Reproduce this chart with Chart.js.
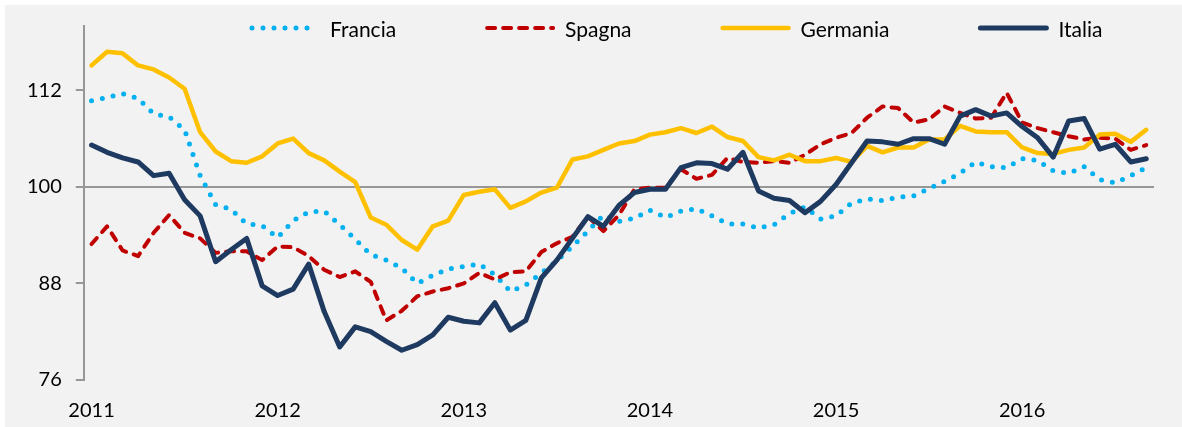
<!DOCTYPE html>
<html>
<head>
<meta charset="utf-8">
<script src="https://cdn.jsdelivr.net/npm/chart.js@4.4.0/dist/chart.umd.min.js"></script>
<style>
    html, body { margin: 0; padding: 0; background: #fff; }
    #wrap { position: absolute; left: 5px; top: 5px; width: 1177px; height: 422px; background: #f2f2f2; }
</style>
</head>
<body>
<div id="wrap"><canvas id="chart" width="1177" height="422"></canvas></div>
<script>
// Monthly series, Jan 2011 - Sep 2016
const years = ['2011', '2012', '2013', '2014', '2015', '2016'];
const lastMonth = '2016-09';
const yTicks = [76, 88, 100, 112];

const francia = [
    110.7, 111.1, 111.6, 111.0, 109.1, 108.7, 107.1, 101.4, 97.8, 97.2,
    95.4, 95.2, 93.7, 95.8, 96.9, 97.0, 95.3, 93.5, 91.6, 90.9,
    89.9, 88.0, 89.0, 89.8, 90.1, 90.4, 89.1, 87.0, 87.8, 89.3,
    90.8, 92.6, 94.5, 96.5, 95.7, 96.1, 97.1, 96.2, 97.0, 97.3,
    96.4, 95.4, 95.4, 94.9, 95.3, 96.7, 97.5, 96.0, 96.4, 98.0,
    98.5, 98.3, 98.7, 98.9, 99.8, 100.7, 101.7, 103.1, 102.5, 102.4,
    103.5, 103.3, 102.0, 101.7, 102.5, 100.9, 100.5, 101.4, 102.4
];
const spagna = [
    92.9, 95.1, 92.1, 91.4, 94.3, 96.5, 94.3, 93.6, 91.8, 92.0,
    92.0, 90.9, 92.6, 92.5, 91.4, 89.7, 88.8, 89.5, 88.2, 83.4,
    84.6, 86.4, 87.0, 87.4, 88.0, 89.3, 88.5, 89.4, 89.5, 91.9,
    93.0, 93.8, 96.3, 94.5, 96.5, 99.7, 99.9, 99.9, 102.2, 101.0,
    101.5, 103.6, 103.1, 103.0, 103.2, 103.0, 104.0, 105.3, 106.1, 106.7,
    108.6, 110.0, 109.8, 108.0, 108.4, 110.0, 109.2, 108.5, 108.6, 111.7,
    108.0, 107.3, 106.8, 106.3, 105.9, 106.1, 106.0, 104.6, 105.2
];
const germania = [
    115.1, 116.8, 116.6, 115.1, 114.6, 113.6, 112.2, 106.8, 104.4, 103.2,
    103.0, 103.8, 105.4, 106.0, 104.2, 103.3, 101.9, 100.6, 96.2, 95.3,
    93.4, 92.2, 95.1, 95.8, 99.0, 99.4, 99.7, 97.4, 98.2, 99.3,
    99.9, 103.4, 103.8, 104.6, 105.4, 105.7, 106.5, 106.8, 107.3, 106.7,
    107.5, 106.2, 105.7, 103.7, 103.3, 104.0, 103.2, 103.2, 103.6, 103.1,
    105.1, 104.3, 104.9, 104.9, 105.9, 105.9, 107.6, 106.9, 106.8, 106.8,
    104.9, 104.2, 104.1, 104.6, 104.9, 106.5, 106.6, 105.6, 107.1
];
const italia = [
    105.2, 104.3, 103.6, 103.1, 101.4, 101.7, 98.4, 96.4, 90.7, 92.2,
    93.6, 87.7, 86.5, 87.3, 90.4, 84.5, 80.1, 82.6, 82.0, 80.8,
    79.7, 80.4, 81.6, 83.8, 83.3, 83.1, 85.6, 82.2, 83.4, 88.7,
    90.9, 93.6, 96.3, 95.1, 97.7, 99.3, 99.7, 99.7, 102.4, 103.0,
    102.9, 102.2, 104.3, 99.5, 98.6, 98.3, 96.8, 98.2, 100.3, 103.0,
    105.7, 105.6, 105.3, 106.0, 106.0, 105.3, 108.8, 109.6, 108.8, 109.2,
    107.5, 106.1, 103.7, 108.2, 108.5, 104.7, 105.3, 103.1, 103.5
];

// build month categories from the years
const months = [];
years.forEach(function(y) {
    for (let m = 1; m <= 12; m++) {
        const key = y + '-' + String(m).padStart(2, '0');
        if (key <= lastMonth) months.push(key);
    }
});

const axisGrey = '#979797';
const labelFont = { family: 'Lato', size: 20 };

// legend drawn across the top of the plot, like the original
const legendStart = 247, legendY = 23, legendLine = 66, legendGap = 12, legendSpacing = 91;
const topLegend = {
    id: 'topLegend',
    afterDraw(chart) {
        const ctx = chart.ctx;
        let x = legendStart;
        ctx.save();
        ctx.font = '21px Lato';
        ctx.textBaseline = 'middle';
        chart.data.datasets.forEach(function(ds) {
            ctx.beginPath();
            ctx.strokeStyle = ds.borderColor;
            ctx.lineWidth = ds.borderWidth;
            ctx.lineCap = ds.borderCapStyle;
            ctx.setLineDash(ds.borderDash || []);
            ctx.moveTo(x, legendY);
            ctx.lineTo(x + legendLine, legendY);
            ctx.stroke();
            ctx.setLineDash([]);
            ctx.fillStyle = '#000';
            ctx.fillText(ds.label, x + legendLine + legendGap, legendY + 2);
            x += legendLine + legendGap + ctx.measureText(ds.label).width + legendSpacing;
        });
        ctx.restore();
    }
};

new Chart(document.getElementById('chart'), {
    type: 'line',
    data: {
        labels: months,
        datasets: [
            { label: 'Francia', data: francia, borderColor: '#00b0f0', borderWidth: 5,
              borderDash: [0, 11], borderCapStyle: 'round', order: 3 },
            { label: 'Spagna', data: spagna, borderColor: '#c00000', borderWidth: 4,
              borderDash: [8, 8], borderCapStyle: 'round', order: 2 },
            { label: 'Germania', data: germania, borderColor: '#ffc000', borderWidth: 4.5,
              borderCapStyle: 'round', order: 1 },
            { label: 'Italia', data: italia, borderColor: '#1f3a60', borderWidth: 5,
              borderCapStyle: 'round', order: 0 }
        ]
    },
    options: {
        responsive: false,
        animation: false,
        devicePixelRatio: 1,
        elements: {
            point: { radius: 0 },
            line: { tension: 0, borderJoinStyle: 'round', fill: false }
        },
        layout: { padding: { left: 8, right: 28, top: 21, bottom: 4 } },
        plugins: {
            legend: { display: false },
            tooltip: { enabled: false }
        },
        scales: {
            x: {
                offset: true,
                grid: { display: false, drawTicks: false },
                border: { display: false },
                afterFit: function(axis) {
                    axis.height = 43;
                },
                ticks: {
                    autoSkip: false,
                    maxRotation: 0,
                    padding: 19,
                    color: '#000',
                    font: labelFont,
                    callback: function(value, index) {
                        const m = months[index];
                        return m.endsWith('-01') ? m.slice(0, 4) : '';
                    }
                }
            },
            y: {
                min: 76,
                max: 120,
                afterBuildTicks: function(axis) {
                    axis.ticks = yTicks.map(function(v) { return { value: v }; });
                },
                afterFit: function(axis) {
                    axis.paddingTop = 0;
                    axis.paddingBottom = 0;
                },
                border: { display: true, color: axisGrey, width: 2 },
                grid: {
                    color: function(ctx) {
                        return ctx.tick && ctx.tick.value === 100 ? axisGrey : 'rgba(0,0,0,0)';
                    },
                    lineWidth: 2,
                    tickColor: axisGrey,
                    tickLength: 8,
                    tickWidth: 2
                },
                ticks: { padding: 14, color: '#000', font: labelFont }
            }
        }
    },
    plugins: [topLegend]
});
</script>
</body>
</html>
